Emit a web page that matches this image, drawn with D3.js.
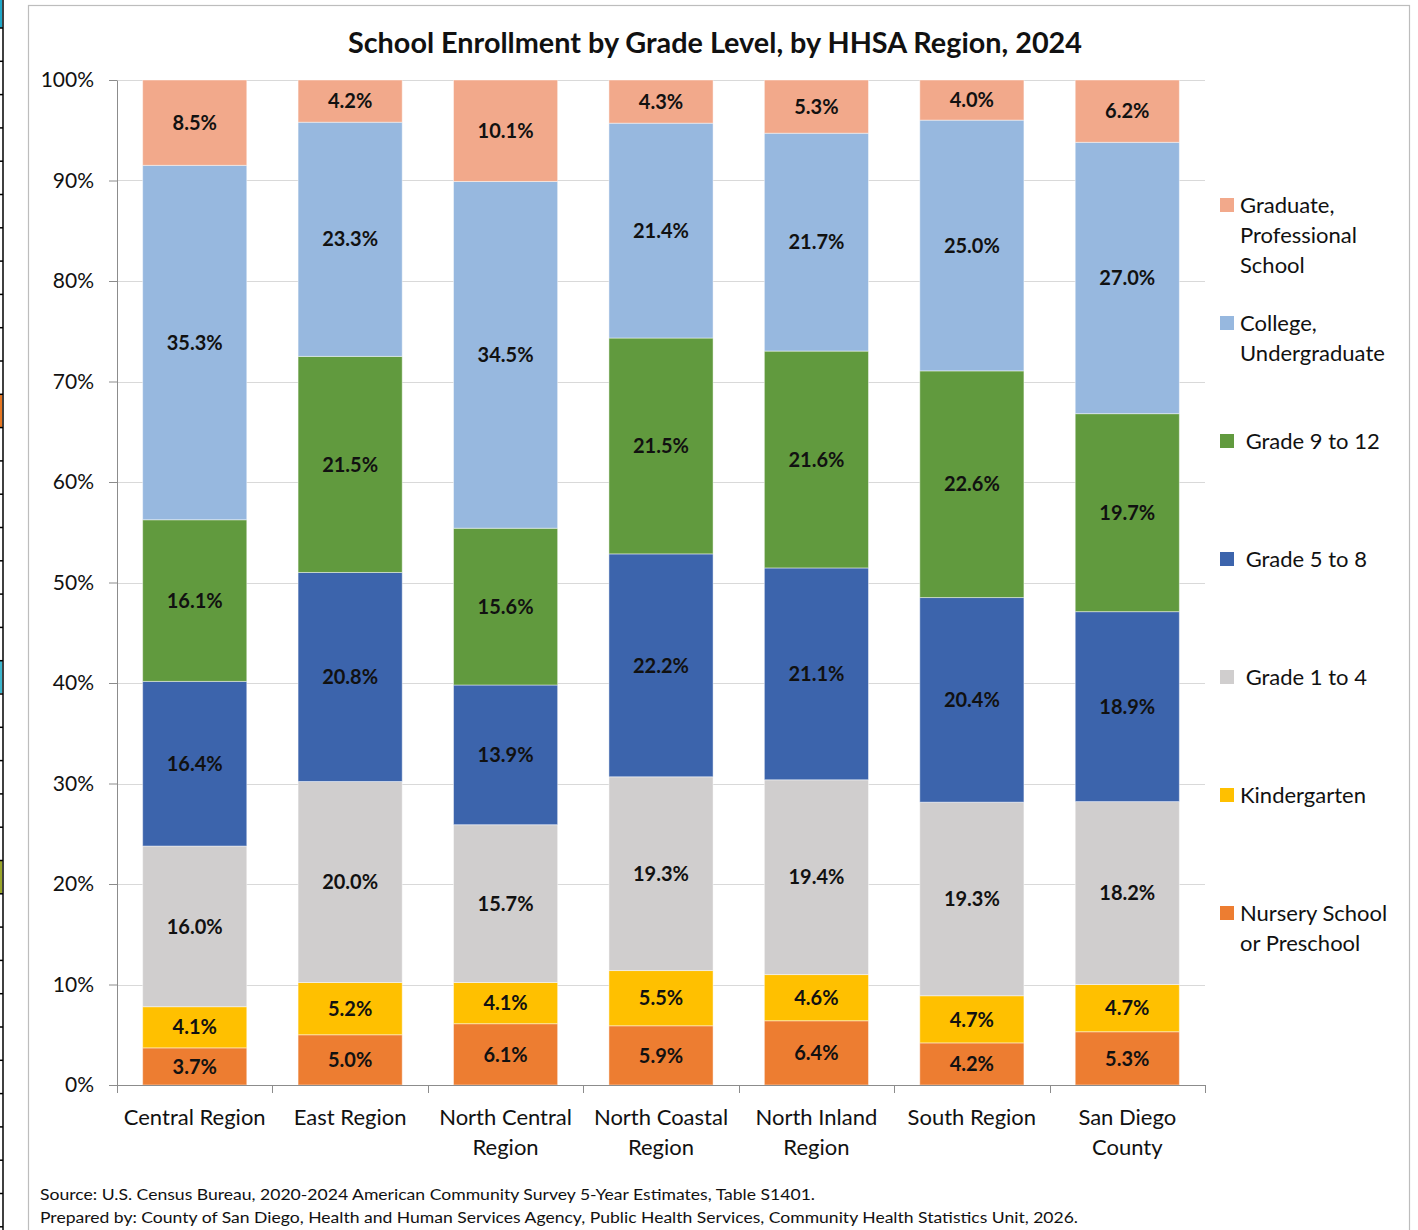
<!DOCTYPE html>
<html>
<head>
<meta charset="utf-8">
<script src="https://cdn.jsdelivr.net/npm/d3@7"></script>
<style>
  body { margin: 0; background: #fff; }
  svg { display: block; font-family: Lato, "Open Sans", sans-serif; }
</style>
</head>
<body>
<svg width="1418" height="1230"></svg>
<script>
// regions (x categories)
var regions = [
  ["Central Region"],
  ["East Region"],
  ["North Central", "Region"],
  ["North Coastal", "Region"],
  ["North Inland", "Region"],
  ["South Region"],
  ["San Diego", "County"]
];

// series, bottom to top, percent values
var nursery      = [3.7, 5.0, 6.1, 5.9, 6.4, 4.2, 5.3];
var kindergarten = [4.1, 5.2, 4.1, 5.5, 4.6, 4.7, 4.7];
var grade1to4    = [16.0, 20.0, 15.7, 19.3, 19.4, 19.3, 18.2];
var grade5to8    = [16.4, 20.8, 13.9, 22.2, 21.1, 20.4, 18.9];
var grade9to12   = [16.1, 21.5, 15.6, 21.5, 21.6, 22.6, 19.7];
var college      = [35.3, 23.3, 34.5, 21.4, 21.7, 25.0, 27.0];
var graduate     = [8.5, 4.2, 10.1, 4.3, 5.3, 4.0, 6.2];

var seriesKeys = ["nursery", "kindergarten", "grade1to4", "grade5to8", "grade9to12", "college", "graduate"];
var seriesData = [nursery, kindergarten, grade1to4, grade5to8, grade9to12, college, graduate];
var colors = ["#ED7D31", "#FFC000", "#D0CECE", "#3C64AC", "#619A3E", "#97B8DF", "#F2A98B"];

// legend, top to bottom
var legendLabels = [
  ["Graduate,", "Professional", "School"],
  ["College,", "Undergraduate"],
  [" Grade 9 to 12"],
  [" Grade 5 to 8"],
  [" Grade 1 to 4"],
  ["Kindergarten"],
  ["Nursery School", "or Preschool"]
];
var legendColors = ["#F2A98B", "#97B8DF", "#619A3E", "#3C64AC", "#D0CECE", "#FFC000", "#ED7D31"];

var yTicks = [0, 0.1, 0.2, 0.3, 0.4, 0.5, 0.6, 0.7, 0.8, 0.9, 1];

// rows for d3.stack
var rows = regions.map(function (r, i) {
  var o = { region: r.join(" ") };
  seriesKeys.forEach(function (k, j) { o[k] = seriesData[j][i]; });
  return o;
});

var svg = d3.select("svg");

// odd spreadsheet strip at the left edge
var strip = svg.append("g");
strip.append("rect").attr("x", 0).attr("y", 0).attr("width", 2).attr("height", 28).attr("fill", "#1FA8C9");
strip.append("rect").attr("x", 0).attr("y", 394).attr("width", 2).attr("height", 33).attr("fill", "#E87722");
strip.append("rect").attr("x", 0).attr("y", 660).attr("width", 2).attr("height", 33).attr("fill", "#3DB7CE");
strip.append("rect").attr("x", 0).attr("y", 860).attr("width", 2).attr("height", 33).attr("fill", "#9AA62A");
strip.append("line").attr("x1", 3).attr("x2", 3).attr("y1", 0).attr("y2", 1230)
  .attr("stroke", "#000").attr("stroke-width", 1.5);
d3.range(28, 1230, 33.3).forEach(function (yy) {
  strip.append("line").attr("x1", 0).attr("x2", 3).attr("y1", yy).attr("y2", yy)
    .attr("stroke", "#000").attr("stroke-width", 1.5);
});

// chart frame
svg.append("rect")
  .attr("x", 28.5).attr("y", 5.5).attr("width", 1381).attr("height", 1240)
  .attr("fill", "none").attr("stroke", "#bdbdbd").attr("stroke-width", 1.2);

var margin = { left: 117, right: 1205, top: 80, bottom: 1085 };

var x = d3.scaleBand()
  .domain(rows.map(function (d) { return d.region; }))
  .range([margin.left, margin.right])
  .paddingInner(0.33)
  .paddingOuter(0.165);

var y = d3.scaleLinear().domain([0, 1]).range([margin.bottom, margin.top]);

// gridlines
svg.append("g").selectAll("line")
  .data(yTicks.slice(1))
  .enter().append("line")
  .attr("x1", margin.left).attr("x2", margin.right)
  .attr("y1", function (d) { return Math.round(y(d)) + 0.5; })
  .attr("y2", function (d) { return Math.round(y(d)) + 0.5; })
  .attr("stroke", "#d9d9d9").attr("stroke-width", 1);

// stacked bars (100% stacked)
var stack = d3.stack().keys(seriesKeys).offset(d3.stackOffsetExpand);
var layers = stack(rows);

var layerG = svg.append("g").selectAll("g")
  .data(layers)
  .enter().append("g")
  .attr("fill", function (d, i) { return colors[i]; });

layerG.selectAll("rect")
  .data(function (d) { return d; })
  .enter().append("rect")
  .attr("x", function (d) { return x(d.data.region); })
  .attr("width", x.bandwidth())
  .attr("y", function (d) { return y(d[1]); })
  .attr("height", function (d) { return y(d[0]) - y(d[1]); })
  .attr("stroke", "rgba(255,255,255,0.45)")
  .attr("stroke-width", 1);

// value labels
layers.forEach(function (layer, i) {
  svg.append("g").selectAll("text")
    .data(layer)
    .enter().append("text")
    .attr("x", function (d) { return x(d.data.region) + x.bandwidth() / 2; })
    .attr("y", function (d) { return (y(d[0]) + y(d[1])) / 2; })
    .attr("dy", "0.36em")
    .attr("text-anchor", "middle")
    .attr("font-size", "20px")
    .attr("font-weight", "bold")
    .attr("fill", "#111")
    .text(function (d) { return d.data[seriesKeys[i]].toFixed(1) + "%"; });
});

// y axis
var yAxis = svg.append("g")
  .attr("transform", "translate(" + margin.left + ",0)")
  .call(d3.axisLeft(y).tickValues(yTicks).tickFormat(d3.format(".0%")).tickSize(8).tickSizeOuter(0).tickPadding(15));
yAxis.select(".domain").attr("stroke", "#8c8c8c");
yAxis.selectAll(".tick line").attr("stroke", "#8c8c8c");
yAxis.selectAll(".tick text")
  .attr("font-size", "21px").attr("fill", "#111")
  .attr("font-family", "Lato, sans-serif");

// x axis: baseline with ticks at band boundaries
var xAxisG = svg.append("g");
xAxisG.append("line")
  .attr("x1", margin.left).attr("x2", margin.right)
  .attr("y1", margin.bottom + 0.5).attr("y2", margin.bottom + 0.5)
  .attr("stroke", "#8c8c8c");
var step = x.step();
xAxisG.selectAll(".xtick")
  .data(d3.range(regions.length + 1))
  .enter().append("line")
  .attr("class", "xtick")
  .attr("x1", function (i) { return Math.round(margin.left + i * step) + 0.5; })
  .attr("x2", function (i) { return Math.round(margin.left + i * step) + 0.5; })
  .attr("y1", margin.bottom).attr("y2", margin.bottom + 8)
  .attr("stroke", "#8c8c8c");

var catLabels = xAxisG.selectAll(".cat")
  .data(regions)
  .enter().append("text")
  .attr("class", "cat")
  .attr("x", function (d) { return x(d.join(" ")) + x.bandwidth() / 2; })
  .attr("y", 1125)
  .attr("text-anchor", "middle")
  .attr("font-size", "22px")
  .attr("fill", "#111");
catLabels.selectAll("tspan")
  .data(function (d) { return d; })
  .enter().append("tspan")
  .attr("x", function () { return d3.select(this.parentNode).attr("x"); })
  .attr("dy", function (d, i) { return i === 0 ? 0 : 30; })
  .text(function (d) { return d; });

// title
svg.append("text")
  .attr("x", 715).attr("y", 53)
  .attr("text-anchor", "middle")
  .attr("font-size", "28px")
  .attr("font-weight", "bold")
  .attr("fill", "#111")
  .attr("textLength", 734)
  .attr("lengthAdjust", "spacingAndGlyphs")
  .text("School Enrollment by Grade Level, by HHSA Region, 2024");

// legend
var legend = svg.append("g").selectAll("g")
  .data(legendLabels)
  .enter().append("g")
  .attr("transform", function (d, i) { return "translate(1220," + (205 + i * 118) + ")"; });
legend.append("rect")
  .attr("x", 0).attr("y", -7).attr("width", 14).attr("height", 14)
  .attr("fill", function (d, i) { return legendColors[i]; });
var legText = legend.append("text")
  .attr("x", 20).attr("y", 0)
  .attr("font-size", "22px")
  .attr("fill", "#111")
  .attr("dy", "0.36em")
  .style("white-space", "pre");
legText.selectAll("tspan")
  .data(function (d) { return d; })
  .enter().append("tspan")
  .attr("x", 20)
  .attr("dy", function (d, i) { return i === 0 ? "0.36em" : 30; })
  .text(function (d) { return d; });

// footer
svg.append("text")
  .attr("x", 40).attr("y", 1200)
  .attr("font-size", "16px").attr("fill", "#111")
  .attr("textLength", 775).attr("lengthAdjust", "spacingAndGlyphs")
  .text("Source: U.S. Census Bureau, 2020-2024 American Community Survey 5-Year Estimates, Table S1401.");
svg.append("text")
  .attr("x", 40).attr("y", 1223)
  .attr("font-size", "16px").attr("fill", "#111")
  .attr("textLength", 1038).attr("lengthAdjust", "spacingAndGlyphs")
  .text("Prepared by: County of San Diego, Health and Human Services Agency, Public Health Services, Community Health Statistics Unit, 2026.");
</script>
</body>
</html>
